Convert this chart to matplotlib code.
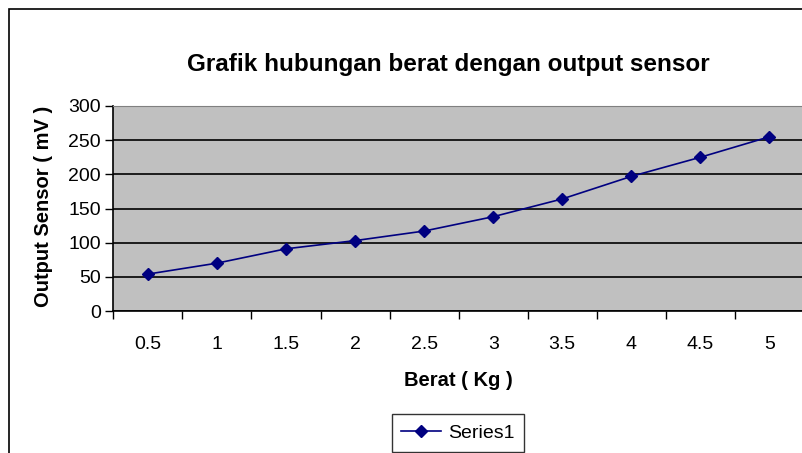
import matplotlib
matplotlib.use("Agg")
import matplotlib.pyplot as plt
from matplotlib.patches import Rectangle
from matplotlib.lines import Line2D

categories = ["0.5", "1", "1.5", "2", "2.5", "3", "3.5", "4", "4.5", "5"]
series1 = [54, 70, 91, 103, 117, 138, 164, 197, 225, 255]
yticks = [0, 50, 100, 150, 200, 250, 300]

W, H = 803, 453
fig = plt.figure(figsize=(W / 100, H / 100), dpi=100)
plt.rcParams['font.family'] = ['Liberation Sans', 'DejaVu Sans']

# outer chart frame
fig.patches.append(Rectangle((9 / W, -0.1), 1.2, 1 - 9 / H + 0.1, transform=fig.transFigure,
                             fill=False, edgecolor='black', linewidth=1.2, zorder=0))

left, right, top, bottom = 113.3, 804, 106, 311
ax = fig.add_axes([left / W, 1 - bottom / H, (right - left) / W, (bottom - top) / H])
ax.set_facecolor('#c0c0c0')

x = list(range(len(categories)))
ax.plot(x, series1, color='#000080', linewidth=1.2, marker='D', markersize=6.5,
        markerfacecolor='#000080', markeredgecolor='#000080', label='Series1', zorder=3)

ax.set_xlim(-0.5, len(categories) - 0.5)
ax.set_ylim(0, 300)
ax.set_yticks(yticks)
ax.set_xticks([i - 0.5 for i in range(len(categories) + 1)])
ax.set_xticklabels([])
ax.set_xticks(x, minor=True)
ax.set_xticklabels(categories, minor=True)
ax.tick_params(axis='x', which='minor', length=0, pad=18, labelsize=14)
ax.tick_params(axis='x', which='major', length=6, width=1, direction='out')
ax.tick_params(axis='y', length=6, width=1, direction='out', pad=3, labelsize=14)

ax.grid(axis='y', color='black', linewidth=1.2)
ax.set_axisbelow(True)
for s in ['top', 'right']:
    ax.spines[s].set_color('#808080')
ax.spines['right'].set_visible(False)
ax.spines['left'].set_linewidth(1.2)
ax.spines['bottom'].set_linewidth(1.2)

fig.text(448 / W, 1 - 64 / H, "Grafik hubungan berat dengan output sensor",
         ha='center', va='center', fontsize=17.5, fontweight='bold')
fig.text(458 / W, 1 - 380 / H, "Berat ( Kg )", ha='center', va='center',
         fontsize=14.5, fontweight='bold')
fig.text(44 / W, 1 - 206 / H, "Output Sensor ( mV )", ha='center', va='center',
         rotation=90, fontsize=14.5, fontweight='bold')

handle = Line2D([], [], color='#000080', linewidth=1.2, marker='D', markersize=6.5,
                markerfacecolor='#000080')
leg = fig.legend([handle], ['Series1'], loc='center', bbox_to_anchor=(458 / W, 1 - 433 / H),
                 frameon=True, fancybox=False, edgecolor='black', fontsize=14,
                 handlelength=2.05, handletextpad=0.36, borderpad=0.5, borderaxespad=0)
leg.get_frame().set_linewidth(1.0)

fig.savefig("out.png", dpi=100)
